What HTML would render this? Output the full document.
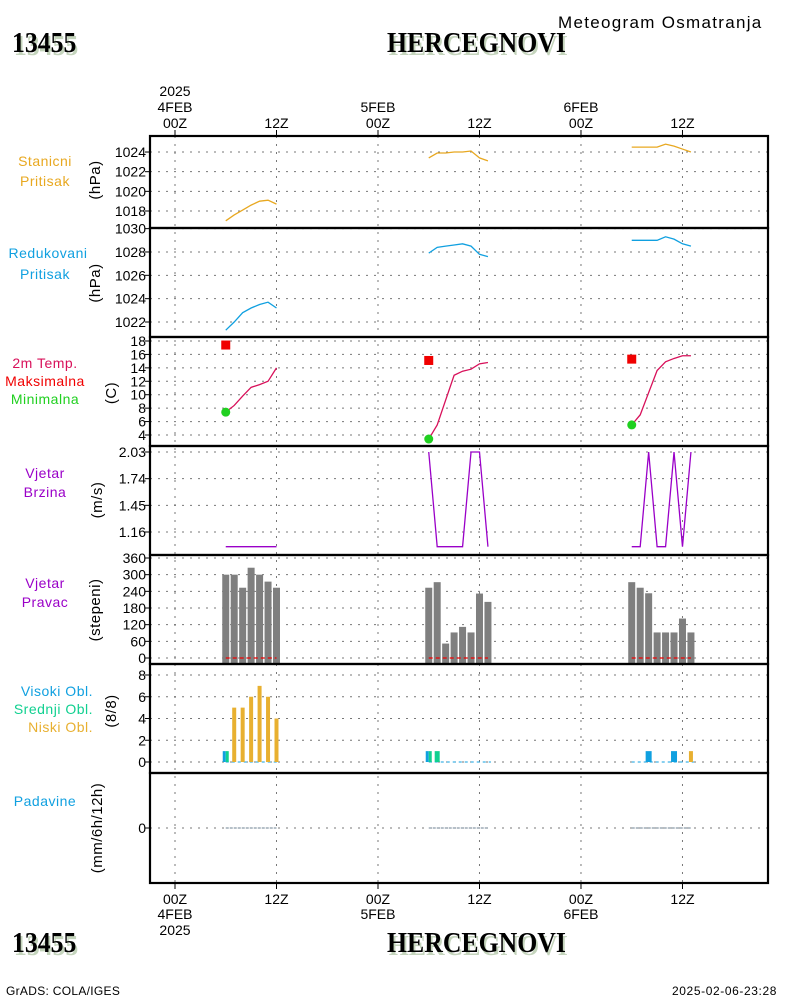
<!DOCTYPE html>
<html><head><meta charset="utf-8"><style>
html,body{margin:0;padding:0;background:#fff;}
svg{display:block;font-family:"Liberation Sans",sans-serif;}
.ttl{position:absolute;font:bold 28px 'Liberation Serif',serif;text-shadow:2px 3px 0 #c4d4bc;transform:scaleX(0.92);transform-origin:left top;}
</style></head><body>
<svg id="chart" width="800" height="1000" viewBox="0 0 800 1000">
<g id="grid"></g><g id="marks"></g><g id="frames"></g><g id="labels"></g>
</svg>
<script>
// ---- data ----
const dayStartHours = [6, 30, 54];
const stanicniP = [[1017.0,1017.6,1018.1,1018.6,1019.0,1019.1,1018.7],[1023.4,1023.9,1023.9,1024.0,1024.0,1024.1,1023.4,1023.1],[1024.5,1024.5,1024.5,1024.5,1024.8,1024.6,1024.3,1024.0]];
const redukovaniP = [[1021.3,1022.0,1022.8,1023.2,1023.5,1023.7,1023.2],[1027.9,1028.4,1028.5,1028.6,1028.7,1028.5,1027.8,1027.6],[1029.0,1029.0,1029.0,1029.0,1029.3,1029.1,1028.7,1028.5]];
const temp2m = [[7.4,8.4,9.8,11.1,11.5,12.0,14.0],[3.4,5.5,9.2,12.9,13.5,13.8,14.6,14.8],[5.5,7.0,10.3,13.6,14.9,15.4,15.8,15.8]];
const tempMax = [17.4, 15.1, 15.3];
const tempMin = [7.4, 3.4, 5.5];
const windSpeed = [[1.0,1.0,1.0,1.0,1.0,1.0,1.0],[2.03,1.0,1.0,1.0,1.0,2.03,2.03,1.0],[1.0,1.0,2.03,1.0,1.0,2.03,1.0,2.03]];
const windDir = [[300,300,253,325,300,275,253],[253,273,52,92,112,92,232,202],[273,253,233,92,92,92,142,92]];
const cloudLow = [[0,5,5,6,7,6,4],[0,0,0,0,0,0,0,0],[0,0,0,0,0,0,0,1]];
const cloudMid = [[1,0,0,0,0,0,0],[1,1,0,0,0,0,0,0],[0,0,0,0,0,0,0,0]];
const cloudHigh = [[1,0,0,0,0,0,0],[1,0,0,0,0,0,0,0],[0,0,1,0,0,1,0,0]];
const precip = [[0,0,0,0,0,0,0],[0,0,0,0,0,0,0,0],[0,0,0,0,0,0,0,0]];
const p1Ticks = [1018,1020,1022,1024];
const p2Ticks = [1022,1024,1026,1028,1030];
const tTicks = [4,6,8,10,12,14,16,18];
const wsTicks = [1.16,1.45,1.74,2.03];
const wdTicks = [0,60,120,180,240,300,360];
const clTicks = [0,2,4,6,8];
const prTicks = [0];
const timeTickHours = [0,12,24,36,48,60];
const timeTickLabels = ["00Z","12Z","00Z","12Z","00Z","12Z"];
const dayLabels = {0:["4FEB","2025"],24:["5FEB"],48:["6FEB"]};

// ---- axes ----
const X0=150, X1=768;
const x = h => 175 + h*8.458;
const yP1 = v => 211 - (v-1018)*9.83;
const yP2 = v => 322 - (v-1022)*11.67;
const yT = v => 341 + (18-v)*6.714;
const yWS = v => 452 + (2.03-v)*91.95;
const yWD = v => 658 - v*100/360;
const yCL = v => 762 - v*10.875;
const yPR = v => 828 - v*20;
const panels = [[136,228],[228,337],[337,446],[446,555],[555,664],[664,773],[773,883]];

const NS="http://www.w3.org/2000/svg";
function mk(parent,tag,attrs,text){const e=document.createElementNS(NS,tag);for(const k in attrs)e.setAttribute(k,attrs[k]);if(text!==undefined)e.textContent=text;document.getElementById(parent).appendChild(e);return e;}

timeTickHours.forEach((h,i)=>{
  const g=mk('grid','line',{x1:x(h),x2:x(h),y1:136,y2:883,stroke:'#777','stroke-dasharray':'2,6'});
  
  
  mk('frames','line',{x1:x(h),x2:x(h),y1:130,y2:136,stroke:'#000'});
  mk('frames','line',{x1:x(h),x2:x(h),y1:883,y2:889,stroke:'#000'});
  const t=mk('labels','text',{x:x(h),y:128,'text-anchor':'middle','font-size':14,fill:'#000'},timeTickLabels[i]);
  
  
  const b=mk('labels','text',{x:x(h),y:904,'text-anchor':'middle','font-size':14,fill:'#000'},timeTickLabels[i]);
  
  
  if(dayLabels[h]){
    mk('labels','text',{x:x(h),y:112,'text-anchor':'middle','font-size':14},dayLabels[h][0]);
    mk('labels','text',{x:x(h),y:919,'text-anchor':'middle','font-size':14},dayLabels[h][0]);
    if(dayLabels[h][1]){
      mk('labels','text',{x:x(h),y:96,'text-anchor':'middle','font-size':14},dayLabels[h][1]);
      mk('labels','text',{x:x(h),y:935,'text-anchor':'middle','font-size':14},dayLabels[h][1]);
    }
  }
});

function yTicks(ticks,fy,fmt){
  ticks.forEach(v=>{
    const y=fy(v);
    const g=mk('grid','line',{x1:X0,x2:X1,y1:y,y2:y,stroke:'#777','stroke-dasharray':'2,6'});
    
    
    mk('frames','line',{x1:X0-5,x2:X0,y1:y,y2:y,stroke:'#000'});
    const t=mk('labels','text',{x:X0-4,y:y+5,'text-anchor':'end','font-size':14},fmt?fmt(v):String(v));
    
    
  });
}
yTicks(p1Ticks,yP1);yTicks(p2Ticks,yP2);yTicks(tTicks,yT);yTicks(wsTicks,yWS,v=>v.toFixed(2));
yTicks(wdTicks,yWD);yTicks(clTicks,yCL);yTicks(prTicks,yPR);

function series(arr,fy,color,name){
  arr.forEach((d,di)=>{
    const pts=d.map((v,i)=>x(dayStartHours[di]+i)+','+fy(v)).join(' ');
    const p=mk('marks','polyline',{points:pts,fill:'none',stroke:color,'stroke-width':1.3});
    
    
  });
}
series(stanicniP,yP1,'#e8a820','stanicni-pritisak-line');
series(redukovaniP,yP2,'#10a0e0','redukovani-pritisak-line');
series(temp2m,yT,'#d8105a','temperature-line');
series(windSpeed,yWS,'#9a00c8','wind-speed-line');
dayStartHours.forEach((h0,di)=>{
  const s=mk('marks','rect',{x:x(h0)-4.5,y:yT(tempMax[di])-4.5,width:9,height:9,fill:'#f00000'});
  
  
  const c=mk('marks','circle',{cx:x(h0),cy:yT(tempMin[di]),r:4.5,fill:'#20d020'});
  
  
  windDir[di].forEach((v,i)=>{
    const b=mk('marks','rect',{x:x(h0+i)-3.5,y:yWD(v),width:7,height:664-yWD(v),fill:'#7f7f7f'});
    
    
  });
  const n=windDir[di].length-1;
  mk('marks','line',{x1:x(h0),x2:x(h0+n),y1:658,y2:658,stroke:'#f00000','stroke-width':1.3,'stroke-dasharray':'4,3'});
  mk('marks','line',{x1:x(h0),x2:x(h0+n)+3,y1:762,y2:762,stroke:'#10a0e0','stroke-dasharray':'3,3'});
  cloudLow[di].forEach((v,i)=>{
    const cx=x(h0+i);
    if(cloudHigh[di][i]>0){const r=mk('marks','rect',{x:cx-3,y:yCL(cloudHigh[di][i]),width:cloudMid[di][i]>0?3:6,height:762-yCL(cloudHigh[di][i]),fill:'#10a0e0'});
      
      }
    if(cloudMid[di][i]>0){const r=mk('marks','rect',{x:cloudHigh[di][i]>0?cx:cx-2.5,y:yCL(cloudMid[di][i]),width:cloudHigh[di][i]>0?3:5,height:762-yCL(cloudMid[di][i]),fill:'#10d090'});
      
      }
    if(v>0){const r=mk('marks','rect',{x:cx-2,y:yCL(v),width:4,height:762-yCL(v),fill:'#e8b030'});
      
      }
  });
  const pp=precip[di].map((v,i)=>x(h0+i)+','+yPR(v)).join(' ');
  const pl=mk('marks','polyline',{points:pp,fill:'none',stroke:'#8a9aa8','stroke-width':1.2,'stroke-dasharray':'3,1'});
  
  
});

panels.forEach(p=>{
  const r=mk('frames','rect',{x:X0,y:p[0],width:X1-X0,height:p[1]-p[0],fill:'none',stroke:'#000','stroke-width':2.2});
  
  
});

const leftLabels=[
 [['Stanicni','#e8a820',166],['Pritisak','#e8a820',186]],
 [['Redukovani','#10a0e0',258],['Pritisak','#10a0e0',279]],
 [['2m Temp.','#d8105a',368],['Maksimalna','#f00000',386],['Minimalna','#20d020',404]],
 [['Vjetar','#9a00c8',478],['Brzina','#9a00c8',497]],
 [['Vjetar','#9a00c8',588],['Pravac','#9a00c8',607]],
 [['Visoki Obl.','#10a0e0',696],['Srednji Obl.','#10d090',714],['Niski Obl.','#e8b030',732]],
 [['Padavine','#10a0e0',806]]
];
leftLabels.forEach(g=>g.forEach(l=>{
  const isObl=l[0].endsWith('Obl.');
  const t=mk('labels','text',{x:l[0]==='Redukovani'?48:(isObl?93:45),y:l[2],'text-anchor':isObl?'end':'middle','font-size':14,'letter-spacing':0.5,fill:l[1]},l[0]);
  
  
}));
const units=[['(hPa)',180,100],['(hPa)',283,100],['(C)',393,116],['(m/s)',500,102],['(stepeni)',610,100],['(8/8)',711,116],['(mm/6h/12h)',828,102]];
units.forEach(u=>{
  const t=mk('labels','text',{x:0,y:0,transform:`translate(${u[2]},${u[1]}) rotate(-90)`,'text-anchor':'middle','font-size':15,'letter-spacing':0.5},u[0]);
  
  
});
</script>
<div class="ttl" style="left:12px;top:28px;">13455</div>
<div class="ttl" style="left:387px;top:28px;">HERCEGNOVI</div>
<div style="position:absolute;left:558px;top:13px;font:17px 'Liberation Sans',sans-serif;letter-spacing:1.3px;">Meteogram Osmatranja</div>
<div class="ttl" style="left:12px;top:928px;">13455</div>
<div class="ttl" style="left:387px;top:928px;">HERCEGNOVI</div>
<div style="position:absolute;left:6px;top:984px;font:12px 'Liberation Sans',sans-serif;letter-spacing:0.3px;">GrADS: COLA/IGES</div>
<div style="position:absolute;left:672px;top:984px;font:12px 'Liberation Sans',sans-serif;letter-spacing:0.6px;">2025-02-06-23:28</div>
</body></html>
